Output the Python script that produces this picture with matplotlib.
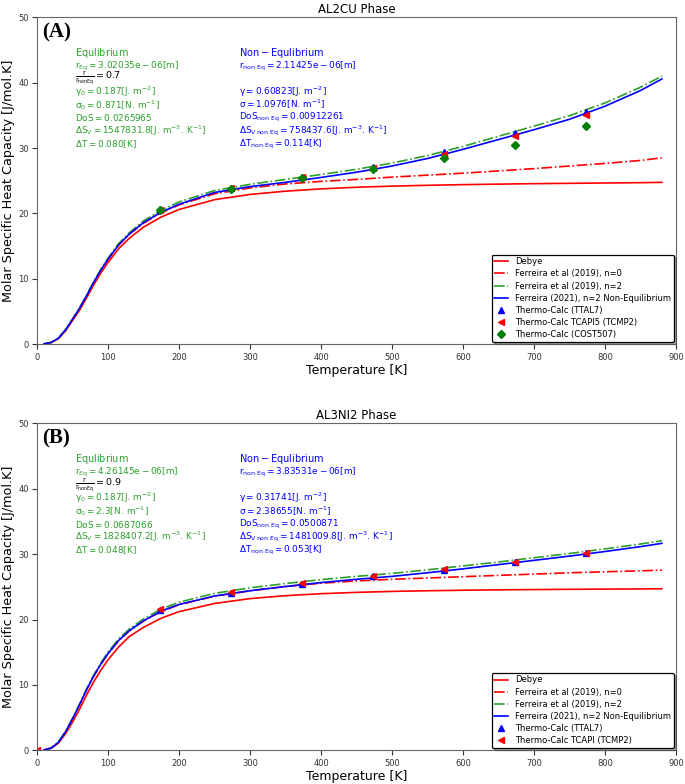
import matplotlib
matplotlib.use("Agg")
import matplotlib.pyplot as plt

# ---------------- shared temperature grid for curves ----------------
T = [10, 20, 30, 40, 50, 60, 70, 80, 90, 100, 115, 130, 150, 175, 200, 250,
     300, 350, 400, 450, 500, 550, 600, 650, 700, 750, 800, 850, 880]
T_tc = [173, 273, 373, 473, 573, 673, 773]

# ---------------- Panel A: AL2CU ----------------
a_debye = [0.03, 0.24, 0.82, 2.0, 3.6, 5.2, 7.1, 9.1, 10.9, 12.5, 14.6, 16.2, 17.9, 19.45, 20.6, 22.1,
           22.9, 23.4, 23.75, 24.0, 24.17, 24.3, 24.4, 24.48, 24.55, 24.6, 24.65, 24.7, 24.75]
a_n0 = [0.05, 0.26, 0.88, 2.15, 3.8, 5.45, 7.4, 9.45, 11.3, 12.95, 15.15, 16.8, 18.5, 20.1, 21.3, 23.0,
        23.9, 24.5, 24.9, 25.2, 25.55, 25.85, 26.15, 26.5, 26.85, 27.25, 27.65, 28.1, 28.5]
a_n2 = [0.05, 0.28, 0.92, 2.2, 3.85, 5.55, 7.5, 9.6, 11.45, 13.15, 15.4, 17.05, 18.85, 20.5, 21.75, 23.5,
        24.45, 25.2, 25.95, 26.75, 27.7, 28.85, 30.25, 31.8, 33.35, 34.95, 36.9, 39.3, 41.0]
a_neq = [0.05, 0.27, 0.9, 2.15, 3.8, 5.5, 7.45, 9.5, 11.35, 13.0, 15.2, 16.85, 18.6, 20.2, 21.4, 23.2,
         24.1, 24.75, 25.5, 26.3, 27.25, 28.4, 29.8, 31.3, 32.8, 34.4, 36.4, 38.8, 40.56]
a_ttal7 = [20.6, 23.95, 25.6, 27.1, 29.45, 32.25, 35.45]
a_tcapi = [20.5, 23.85, 25.5, 27.0, 29.1, 31.85, 35.05]
a_cost = [20.55, 23.8, 25.4, 26.85, 28.5, 30.5, 33.4]

# ---------------- Panel B: AL3NI2 ----------------
b_debye = [0.04, 0.3, 1.07, 2.5, 4.3, 6.3, 8.5, 10.5, 12.25, 13.85, 15.8, 17.4, 18.8, 20.2, 21.2, 22.45,
           23.2, 23.65, 23.95, 24.15, 24.3, 24.4, 24.48, 24.54, 24.58, 24.62, 24.65, 24.68, 24.7]
b_n0 = [0.05, 0.35, 1.2, 2.8, 4.8, 7.0, 9.3, 11.35, 13.15, 14.75, 16.75, 18.25, 19.75, 21.25, 22.25, 23.55,
        24.4, 25.05, 25.55, 25.9, 26.15, 26.35, 26.55, 26.75, 26.95, 27.15, 27.3, 27.45, 27.55]
b_n2 = [0.05, 0.35, 1.21, 2.82, 4.85, 7.05, 9.4, 11.5, 13.35, 15.0, 17.05, 18.55, 20.1, 21.6, 22.65, 24.0,
        24.85, 25.5, 26.1, 26.6, 27.05, 27.6, 28.2, 28.8, 29.45, 30.1, 30.8, 31.55, 32.05]
b_neq = [0.05, 0.35, 1.2, 2.8, 4.8, 7.0, 9.3, 11.4, 13.2, 14.8, 16.8, 18.3, 19.8, 21.3, 22.3, 23.6,
         24.4, 25.05, 25.65, 26.15, 26.6, 27.15, 27.75, 28.4, 29.05, 29.7, 30.4, 31.15, 31.65]
b_ttal7 = [21.5, 24.1, 25.5, 26.6, 27.6, 28.8, 30.1]
b_T_tcapi = [0, 173, 273, 373, 473, 573, 673, 773]
b_tcapi = [0, 21.6, 24.2, 25.55, 26.65, 27.75, 28.85, 30.15]

# ---------------- texts ----------------
a_eq_text = [r"$\mathrm{Equlibrium}$",
             r"$\mathrm{r_{Eq} = 3.02035e-06[m]}$",
             None,
             r"$\mathrm{\gamma_0 = 0.187[J.\,m^{-2}]}$",
             r"$\mathrm{\sigma_0 = 0.871[N.\,m^{-1}]}$",
             r"$\mathrm{DoS = 0.0265965}$",
             r"$\mathrm{\Delta S_V = 1547831.8[J.\,m^{-3}.\,K^{-1}]}$",
             r"$\mathrm{\Delta T = 0.080[K]}$"]
a_ratio = r"$\mathrm{\frac{r}{r_{nonEq}} = 0.7}$"
a_neq_text = [r"$\mathrm{Non-Equlibrium}$",
              r"$\mathrm{r_{non\ Eq} = 2.11425e-06[m]}$",
              None,
              r"$\mathrm{\gamma = 0.60823[J.\,m^{-2}]}$",
              r"$\mathrm{\sigma = 1.0976[N.\,m^{-1}]}$",
              r"$\mathrm{DoS_{non\ Eq} = 0.00912261}$",
              r"$\mathrm{\Delta S_{V\,non\ Eq} = 758437.6[J.\,m^{-3}.\,K^{-1}]}$",
              r"$\mathrm{\Delta T_{non\ Eq} = 0.114[K]}$"]

b_eq_text = [r"$\mathrm{Equlibrium}$",
             r"$\mathrm{r_{Eq} = 4.26145e-06[m]}$",
             None,
             r"$\mathrm{\gamma_0 = 0.187[J.\,m^{-2}]}$",
             r"$\mathrm{\sigma_0 = 2.3[N.\,m^{-1}]}$",
             r"$\mathrm{DoS = 0.0687066}$",
             r"$\mathrm{\Delta S_V = 1828407.2[J.\,m^{-3}.\,K^{-1}]}$",
             r"$\mathrm{\Delta T = 0.048[K]}$"]
b_ratio = r"$\mathrm{\frac{r}{r_{nonEq}} = 0.9}$"
b_neq_text = [r"$\mathrm{Non-Equlibrium}$",
              r"$\mathrm{r_{non\ Eq} = 3.83531e-06[m]}$",
              None,
              r"$\mathrm{\gamma = 0.31741[J.\,m^{-2}]}$",
              r"$\mathrm{\sigma = 2.38655[N.\,m^{-1}]}$",
              r"$\mathrm{DoS_{non\ Eq} = 0.0500871}$",
              r"$\mathrm{\Delta S_{V\,non\ Eq} = 1481009.8[J.\,m^{-3}.\,K^{-1}]}$",
              r"$\mathrm{\Delta T_{non\ Eq} = 0.053[K]}$"]

text_y = [44.5, 42.5, 40.6, 38.6, 36.6, 34.6, 32.6, 30.6]

GREEN_TXT = "#2ca02c"
GREEN_LN = "#2ca02c"

fig = plt.figure(figsize=(6.85, 7.84), dpi=100)
axA = fig.add_axes([0.054, 0.561, 0.933, 0.417])
axB = fig.add_axes([0.054, 0.043, 0.933, 0.417])


def draw(ax, title, label, debye, n0, n2, neq, ttal7, T_tcapi, tcapi, cost,
         eq_text, ratio, neq_text, tcapi_label):
    ax.plot(T, debye, color="red", lw=1.2, label="Debye")
    ax.plot(T, n0, color="red", lw=1.2, ls="-.", label="Ferreira et al (2019), n=0")
    ax.plot(T, n2, color=GREEN_LN, lw=1.2, ls="-.", label="Ferreira et al (2019), n=2")
    ax.plot(T, neq, color="blue", lw=1.2, label="Ferreira (2021), n=2 Non-Equilibrium")
    ax.plot(T_tc, ttal7, ls="none", marker="^", color="blue", ms=4,
            label="Thermo-Calc (TTAL7)")
    ax.plot(T_tcapi, tcapi, ls="none", marker="<", color="red", ms=4,
            label=tcapi_label)
    if cost is not None:
        ax.plot(T_tc, cost, ls="none", marker="D", color="green", ms=4,
                label="Thermo-Calc (COST507)")
    ax.set_xlim(0, 900)
    ax.set_ylim(0, 50)
    ax.set_xticks(range(0, 901, 100))
    ax.set_yticks(range(0, 51, 10))
    ax.tick_params(labelsize=6, colors="#333333", length=3.5, width=0.8, pad=2.5)
    for s in ax.spines.values():
        s.set_color("#666666")
        s.set_linewidth(0.8)
    ax.set_title(title, fontsize=8.5, pad=3)
    ax.set_xlabel("Temperature [K]", fontsize=9, labelpad=2)
    ax.set_ylabel("Molar Specific Heat Capacity [J/mol.K]", fontsize=9.2, labelpad=2)
    ax.text(0.008, 0.985, label, transform=ax.transAxes, ha="left", va="top",
            fontsize=15, fontweight="bold", family="Liberation Serif")
    for i, (t1, t2) in enumerate(zip(eq_text, neq_text)):
        y = text_y[i]
        fs = 7 if i == 0 else 6.4
        if t1 is not None:
            ax.text(54, y, t1, color=GREEN_TXT, fontsize=fs, va="center", ha="left")
        if t2 is not None:
            ax.text(284, y, t2, color="blue", fontsize=fs, va="center", ha="left")
    ax.text(54, text_y[2], ratio, color="black", fontsize=6.8, va="center", ha="left")
    leg = ax.legend(loc="lower right", fontsize=6, frameon=True, fancybox=True,
                    shadow=True, framealpha=1, borderaxespad=0.3, borderpad=0.3,
                    handlelength=1.7, labelspacing=0.38, handletextpad=0.8)
    leg.get_frame().set_edgecolor("black")
    leg.get_frame().set_linewidth(0.9)


draw(axA, "AL2CU Phase", "(A)", a_debye, a_n0, a_n2, a_neq, a_ttal7, T_tc, a_tcapi, a_cost,
     a_eq_text, a_ratio, a_neq_text, "Thermo-Calc TCAPI5 (TCMP2)")
draw(axB, "AL3NI2 Phase", "(B)", b_debye, b_n0, b_n2, b_neq, b_ttal7, b_T_tcapi, b_tcapi, None,
     b_eq_text, b_ratio, b_neq_text, "Thermo-Calc TCAPI (TCMP2)")

fig.savefig("out.png", dpi=100)
